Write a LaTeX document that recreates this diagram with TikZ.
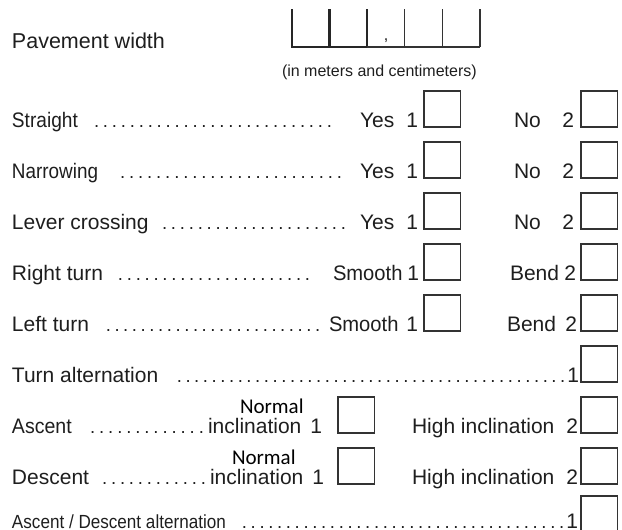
\documentclass[tikz,border=0pt]{standalone}
\usepackage{graphicx}
\usepackage{fontspec}
\setmainfont{Liberation Sans}
\newfontfamily\calfont{Carlito}
\definecolor{ink}{HTML}{1E1E1E}
\definecolor{boxc}{HTML}{333333}
\newcommand{\leaderdots}[1]{\hbox to #1pt{\xleaders\hbox to 8.7pt{\hss.\hss}\hfill}}
\newcommand{\sqz}[2]{\scalebox{#1}[1]{#2}}
\tikzset{
  lbl/.style={inner sep=0pt, outer sep=0pt, anchor=base west, text=ink, font=\fontsize{21}{23}\selectfont},
  lble/.style={lbl, anchor=base east},
  small/.style={lbl, font=\fontsize{16}{18}\selectfont},
  big/.style={lbl, font=\fontsize{21.5}{24}\selectfont},
  normalw/.style={lbl, font=\calfont\fontsize{21}{24}\selectfont, text=black},
  dotsn/.style={lbl, font=\fontsize{18.5}{20}\selectfont},
  cbox/.style={draw=boxc, line width=1.1pt, fill=none, inner sep=0pt, outer sep=0pt, minimum width=36.5pt, minimum height=36pt, anchor=south west},
  thickl/.style={draw=black!85, line width=2.6pt},
  thinl/.style={draw=black!80, line width=1.1pt}
}
\begin{document}
\begin{tikzpicture}[x=1pt, y=-1pt]
\useasboundingbox (0,0) rectangle (622,530);
% Pavement width
\node[big] (pw) at (12,48) {Pavement width};
\coordinate (v1t) at (292,9); \coordinate (v1b) at (292,47);
\coordinate (v2t) at (329.5,9); \coordinate (v2b) at (329.5,47);
\coordinate (v3t) at (367,9); \coordinate (v3b) at (367,47);
\coordinate (v4t) at (404.5,9); \coordinate (v4b) at (404.5,47);
\coordinate (v5t) at (442.5,9); \coordinate (v5b) at (442.5,47);
\coordinate (v6t) at (480,9); \coordinate (v6b) at (480,47);
\draw[thickl] (v1t) -- (v1b);
\draw[thickl] (v2t) -- (v2b);
\draw[thickl] (v3t) -- (v3b);
\draw[thickl, line cap=rect] (v1b) -- (v3b);
\draw[thinl] (v4t) -- (v4b);
\draw[thinl] (v5t) -- (v5b);
\draw[thinl] (v6t) -- (v6b);
\draw[thinl] (v3b) -- (v6b);
\node[small, anchor=base] (comma) at (386,40) {,};
\node[small] (units) at (282,76) {(in meters and centimeters)};

% Straight
\node[lbl] (s0) at (12,127) {\sqz{0.91}{Straight}};
\node[dotsn] (s1) at (92,127) {\leaderdots{242}};
\node[lbl] (s2) at (360,127) {Yes};
\node[lble] (s3) at (418,127) {1};
\node[cbox] (sb1) at (424,127) {};
\node[lbl] (s4) at (514,127) {No};
\node[lble] (s5) at (574,127) {2};
\node[cbox] (sb2) at (581,127) {};

% Narrowing
\node[lbl] (n0) at (12,178) {\sqz{0.9}{Narrowing}};
\node[dotsn] (n1) at (118,178) {\leaderdots{226}};
\node[lbl] (n2) at (360,178) {Yes};
\node[lble] (n3) at (418,178) {1};
\node[cbox] (nb1) at (424,178) {};
\node[lbl] (n4) at (514,178) {No};
\node[lble] (n5) at (574,178) {2};
\node[cbox] (nb2) at (581,178) {};

% Lever crossing
\node[lbl] (l0) at (12,229) {Lever crossing};
\node[dotsn] (l1) at (160,229) {\leaderdots{188}};
\node[lbl] (l2) at (360,229) {Yes};
\node[lble] (l3) at (418,229) {1};
\node[cbox] (lb1) at (424,229) {};
\node[lbl] (l4) at (514,229) {No};
\node[lble] (l5) at (574,229) {2};
\node[cbox] (lb2) at (581,229) {};

% Right turn
\node[lbl] (r0) at (12,280) {Right turn};
\node[dotsn] (r1) at (116,280) {\leaderdots{196}};
\node[lbl] (r2) at (333,280) {\sqz{0.96}{Smooth}};
\node[lble] (r3) at (419,280) {1};
\node[cbox] (rb1) at (424,280) {};
\node[lbl] (r4) at (510,280) {Bend};
\node[lble] (r5) at (576,280) {2};
\node[cbox] (rb2) at (581,280) {};

% Left turn
\node[lbl] (t0) at (12,331) {Left turn};
\node[dotsn] (t1) at (104,331) {\leaderdots{218}};
\node[lbl] (t2) at (329,331) {\sqz{0.96}{Smooth}};
\node[lble] (t3) at (418,331) {1};
\node[cbox] (tb1) at (424,331) {};
\node[lbl] (t4) at (507,331) {Bend};
\node[lble] (t5) at (577,331) {2};
\node[cbox] (tb2) at (581,331) {};

% Turn alternation
\node[lbl] (a0) at (12,382) {Turn alternation};
\node[dotsn] (a1) at (175,382) {\leaderdots{392}};
\node[lble] (a2) at (579,382) {1};
\node[cbox] (ab2) at (581,382) {};

% Ascent
\node[lbl] (u0) at (12,433) {\sqz{0.93}{Ascent}};
\node[dotsn] (u1) at (88,433) {\leaderdots{118}};
\node[normalw] (u2) at (240,413) {Normal};
\node[lbl] (u3) at (208,433) {inclination};
\node[lble] (u4) at (322,433) {1};
\node[cbox] (ub1) at (338,433) {};
\node[lbl] (u5) at (412,433) {High inclination};
\node[lble] (u6) at (578,433) {2};
\node[cbox] (ub2) at (581,433) {};

% Descent
\node[lbl] (d0) at (12,484) {Descent};
\node[dotsn] (d1) at (100,484) {\leaderdots{108}};
\node[normalw] (d2) at (232,464) {Normal};
\node[lbl] (d3) at (210,484) {inclination};
\node[lble] (d4) at (324,484) {1};
\node[cbox] (db1) at (338,484) {};
\node[lbl] (d5) at (412,484) {High inclination};
\node[lble] (d6) at (578,484) {2};
\node[cbox] (db2) at (581,484) {};

% Ascent / Descent alternation
\node[lbl, font=\fontsize{19}{21}\selectfont] (x0) at (12,528) {\sqz{0.9}{Ascent / Descent alternation}};
\node[dotsn] (x1) at (240,528) {\leaderdots{326}};
\node[lble] (x2) at (578,528) {1};
\node[cbox] (xb2) at (581,532) {};
\end{tikzpicture}
\end{document}
